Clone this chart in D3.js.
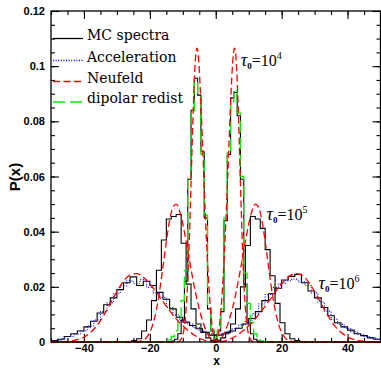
<!DOCTYPE html>
<html>
<head>
<meta charset="utf-8">
<script src="https://cdn.jsdelivr.net/npm/d3@7"></script>
<style>
  body { margin: 0; background: #fff; }
  .tick text { font-family: "Liberation Sans", Arial, sans-serif; font-weight: bold; font-size: 11px; }
</style>
</head>
<body>
<div id="chart"></div>
<script>
// x axis / y axis ticks
const xTicks = [-40, -20, 0, 20, 40];
const yTicks = [0, 0.02, 0.04, 0.06, 0.08, 0.1, 0.12];

const legendNames = ["MC spectra", "Acceleration", "Neufeld", "dipolar redist"];

// MC histograms: [left bin edge, P(x)]
const mc4 = [[-50, 0], [-13.5, 0.0003], [-12.5, 0.001], [-11.5, 0.003], [-10.5, 0.008], [-9.5, 0.022],
  [-8.5, 0.059], [-7.5, 0.084], [-6.5, 0.0956], [-5.5, 0.0895], [-4.5, 0.069], [-3.5, 0.045],
  [-2.5, 0.012], [-1.5, 0.004], [-0.5, 0.001], [0.5, 0.004], [1.5, 0.011], [2.5, 0.044],
  [3.5, 0.068], [4.5, 0.0885], [5.5, 0.0905], [6.5, 0.082], [7.5, 0.059], [8.5, 0.021],
  [9.5, 0.007], [10.5, 0.003], [11.5, 0.001], [12.5, 0.0003], [13.5, 0], [50, 0]];

const mc5 = [[-50, 0], [-27, 0.0002], [-25.5, 0.0005], [-24, 0.0012], [-22.5, 0.004], [-21, 0.008],
  [-19.5, 0.015], [-18, 0.026], [-16.5, 0.037], [-15, 0.0446], [-13.5, 0.0455], [-12, 0.0462],
  [-10.5, 0.0358], [-9, 0.021], [-7.5, 0.012], [-6, 0.0065], [-4.5, 0.0035], [-3, 0.0015],
  [-1.5, 0.0006], [0, 0.0006], [1.5, 0.0015], [3, 0.0035], [4.5, 0.0065], [6, 0.012],
  [7.5, 0.02], [9, 0.035], [10.5, 0.0455], [12, 0.0446], [13.5, 0.0412], [15, 0.0335],
  [16.5, 0.024], [18, 0.014], [19.5, 0.007], [21, 0.003], [22.5, 0.0012], [24, 0.0005],
  [25.5, 0.0002], [27, 0], [50, 0]];

const mc6 = [[-50, 0.0005], [-48, 0.001], [-46, 0.002], [-44, 0.003], [-42, 0.004], [-40, 0.0055],
  [-38, 0.0075], [-36, 0.0105], [-34, 0.0135], [-32, 0.016], [-30, 0.019], [-28, 0.0215],
  [-26, 0.0236], [-24, 0.0205], [-22, 0.022], [-20, 0.0205], [-18, 0.018], [-16, 0.0155],
  [-14, 0.012], [-12, 0.009], [-10, 0.0072], [-8, 0.006], [-6, 0.0048], [-4, 0.0035],
  [-2, 0.0025], [0, 0.0025], [2, 0.003], [4, 0.004], [6, 0.005], [8, 0.0065], [10, 0.0085],
  [12, 0.011], [14, 0.015], [16, 0.0175], [18, 0.0195], [20, 0.0225], [22, 0.0238],
  [24, 0.0245], [26, 0.0215], [28, 0.0185], [30, 0.016], [32, 0.0125], [34, 0.0095],
  [36, 0.007], [38, 0.0055], [40, 0.0043], [42, 0.003], [44, 0.0023], [46, 0.0015],
  [48, 0.001], [50, 0.001]];

// acceleration scheme, tau0 = 1e6
const accel6 = [[-50, 0.0004], [-49, 0.0006], [-47, 0.0012], [-45, 0.002], [-43, 0.0028], [-41, 0.004],
  [-39, 0.0058], [-37, 0.008], [-35, 0.011], [-33, 0.0142], [-31, 0.0175], [-29, 0.0203],
  [-27, 0.0222], [-25, 0.0212], [-23, 0.0226], [-21, 0.0198], [-19, 0.0178], [-17, 0.0162],
  [-15, 0.0125], [-13, 0.0098], [-11, 0.0078], [-9, 0.0066], [-7, 0.0052], [-5, 0.004],
  [-3, 0.003], [-1, 0.0024], [1, 0.0029], [3, 0.0037], [5, 0.0048], [7, 0.0062], [9, 0.008],
  [11, 0.0103], [13, 0.0138], [15, 0.0172], [17, 0.0198], [19, 0.0212], [21, 0.0222],
  [23, 0.0228], [25, 0.0218], [27, 0.0205], [29, 0.0178], [31, 0.0145], [33, 0.0112],
  [35, 0.0082], [37, 0.0064], [39, 0.005], [41, 0.0037], [43, 0.0027], [45, 0.002],
  [47, 0.0014], [49, 0.001], [50, 0.001]];

// dipolar redistribution, tau0 = 1e4
const dip4 = [[-50, 0], [-14.5, 0.0008], [-13.5, 0.002], [-12.5, 0.004], [-11.5, 0.008], [-10.5, 0.015],
  [-9.5, 0.026], [-8.5, 0.06], [-7.5, 0.083], [-6.5, 0.0945], [-5.5, 0.0895], [-4.5, 0.068],
  [-3.5, 0.046], [-2.5, 0.013], [-1.5, 0.0045], [-0.5, 0.0015], [0.5, 0.0045], [1.5, 0.012],
  [2.5, 0.045], [3.5, 0.069], [4.5, 0.087], [5.5, 0.0915], [6.5, 0.083], [7.5, 0.06],
  [8.5, 0.025], [9.5, 0.014], [10.5, 0.007], [11.5, 0.003], [12.5, 0.0012], [13.5, 0.0004],
  [14.5, 0], [50, 0]];

// Neufeld solution
const neu4 = [[-50, 0], [-13, 0], [-12, 0.00003], [-11, 0.00034], [-10, 0.0025], [-9.5, 0.0058],
  [-9, 0.012], [-8.5, 0.0226], [-8, 0.038], [-7.5, 0.0574], [-7, 0.0779], [-6.5, 0.095],
  [-6, 0.1049], [-5.7, 0.1065], [-5.5, 0.1058], [-5, 0.0988], [-4.5, 0.0864], [-4, 0.0714],
  [-3.5, 0.056], [-3, 0.0417], [-2.5, 0.0291], [-2, 0.0186], [-1.5, 0.0105], [-1, 0.0047],
  [-0.5, 0.0012], [0, 0], [0.5, 0.0012], [1, 0.0047], [1.5, 0.0105], [2, 0.0186], [2.5, 0.0291],
  [3, 0.0417], [3.5, 0.056], [4, 0.0714], [4.5, 0.0864], [5, 0.0988], [5.5, 0.1058],
  [5.7, 0.1065], [6, 0.1049], [6.5, 0.095], [7, 0.0779], [7.5, 0.0574], [8, 0.038],
  [8.5, 0.0226], [9, 0.012], [9.5, 0.0058], [10, 0.0025], [11, 0.00034], [12, 0.00003],
  [13, 0], [50, 0]];

const neu5 = [[-50, 0], [-26, 0], [-24, 0.0001], [-22, 0.0007], [-21, 0.0016], [-20, 0.0035],
  [-19, 0.0067], [-18, 0.0117], [-17, 0.0188], [-16, 0.0274], [-15, 0.0364], [-14, 0.0441],
  [-13, 0.0488], [-12, 0.05], [-11, 0.0476], [-10, 0.0428], [-9, 0.0365], [-8, 0.0297],
  [-7, 0.0231], [-6, 0.0171], [-5, 0.0119], [-4, 0.0077], [-3, 0.0043], [-2, 0.0019],
  [-1, 0.0005], [0, 0], [1, 0.0005], [2, 0.0019], [3, 0.0043], [4, 0.0077], [5, 0.0119],
  [6, 0.0171], [7, 0.0231], [8, 0.0297], [9, 0.0365], [10, 0.0428], [11, 0.0476], [12, 0.05],
  [13, 0.0488], [14, 0.0441], [15, 0.0364], [16, 0.0274], [17, 0.0188], [18, 0.0117],
  [19, 0.0067], [20, 0.0035], [21, 0.0016], [22, 0.0007], [24, 0.0001], [26, 0], [50, 0]];

const neu6 = [[-50, 0], [-48, 0.00005], [-46, 0.00015], [-44, 0.00038], [-42, 0.00087], [-40, 0.0018],
  [-38, 0.0035], [-36, 0.006], [-34, 0.0096], [-32, 0.0139], [-30, 0.0183], [-28, 0.022],
  [-26, 0.0243], [-24, 0.0248], [-22, 0.0235], [-20, 0.0211], [-18, 0.018], [-16, 0.0146],
  [-14, 0.0114], [-12, 0.0084], [-10, 0.0059], [-8, 0.0038], [-6, 0.0021], [-4, 0.0009],
  [-2, 0.0002], [0, 0], [2, 0.0002], [4, 0.0009], [6, 0.0021], [8, 0.0038], [10, 0.0059],
  [12, 0.0084], [14, 0.0114], [16, 0.0146], [18, 0.018], [20, 0.0211], [22, 0.0235],
  [24, 0.0248], [26, 0.0243], [28, 0.022], [30, 0.0183], [32, 0.0139], [34, 0.0096],
  [36, 0.006], [38, 0.0035], [40, 0.0018], [42, 0.00087], [44, 0.00038], [46, 0.00015],
  [48, 0.00005], [50, 0]];

const tauLabels = [
  { exp: "4", at: [7.6, 0.1] },
  { exp: "5", at: [15.4, 0.0444] },
  { exp: "6", at: [31.2, 0.0192] }
];

const width = 381, height = 368;
const svg = d3.select("#chart").append("svg")
  .attr("width", width).attr("height", height);

const x = d3.scaleLinear().domain([-50, 50]).range([51, 380.5]);
const y = d3.scaleLinear().domain([0, 0.12]).range([342, 11]);

const fmtY = d => d === 0 ? "0" : String(+d.toFixed(2));
const fmtX = d => d < 0 ? "\u2212" + Math.abs(d) : String(d);

// ticks on all four sides, pointing in
function axes() {
  svg.append("g").attr("transform", "translate(0,342)")
    .call(d3.axisBottom(x).tickValues(x.ticks(20)).tickSize(-4).tickFormat(""));
  svg.append("g").attr("transform", "translate(0,342)")
    .call(d3.axisBottom(x).tickValues(xTicks).tickSize(-8).tickPadding(2).tickFormat(fmtX));
  svg.append("g").attr("transform", "translate(0,11)")
    .call(d3.axisTop(x).tickValues(x.ticks(20)).tickSize(-4).tickFormat(""));
  svg.append("g").attr("transform", "translate(0,11)")
    .call(d3.axisTop(x).tickValues(xTicks).tickSize(-8).tickFormat(""));
  svg.append("g").attr("transform", "translate(51,0)")
    .call(d3.axisLeft(y).tickValues(y.ticks(24)).tickSize(-4).tickFormat(""));
  svg.append("g").attr("transform", "translate(51,0)")
    .call(d3.axisLeft(y).tickValues(yTicks).tickSize(-8).tickPadding(6).tickFormat(fmtY));
  svg.append("g").attr("transform", "translate(380.5,0)")
    .call(d3.axisRight(y).tickValues(y.ticks(24)).tickSize(-4).tickFormat(""));
  svg.append("g").attr("transform", "translate(380.5,0)")
    .call(d3.axisRight(y).tickValues(yTicks).tickSize(-8).tickFormat(""));
  svg.selectAll(".domain").remove();
  svg.selectAll(".tick line").attr("stroke", "#000").attr("stroke-width", 1.1);
}
axes();

const step = d3.line().x(d => x(d[0])).y(d => y(d[1])).curve(d3.curveStepAfter);
const smooth = d3.line().x(d => x(d[0])).y(d => y(d[1])).curve(d3.curveMonotoneX);

const styles = {
  mc: { stroke: "#000", width: 1.1, dash: null },
  acc: { stroke: "#0000ff", width: 1.1, dash: "1,1.6" },
  neu: { stroke: "#ff0000", width: 1.3, dash: "7,3.5" },
  dip: { stroke: "#00ee00", width: 1.3, dash: "12,5" }
};

function draw(data, gen, st) {
  svg.append("path").datum(data).attr("d", gen)
    .attr("fill", "none").attr("stroke", st.stroke).attr("stroke-width", st.width)
    .attr("stroke-dasharray", st.dash);
}

[mc4, mc5, mc6].forEach(d => draw(d, step, styles.mc));
draw(accel6, step, styles.acc);
draw(dip4, step, styles.dip);
[neu4, neu5, neu6].forEach(d => draw(d, smooth, styles.neu));

// frame
svg.append("rect").attr("x", 51).attr("y", 11).attr("width", 329.5).attr("height", 331)
  .attr("fill", "none").attr("stroke", "#000").attr("stroke-width", 1.3);

// legend
const legY = [38.5, 60.5, 81.5, 102];
const legStyles = [styles.mc, styles.acc, styles.neu, styles.dip];
legendNames.forEach((name, i) => {
  const st = legStyles[i];
  svg.append("line").attr("x1", 53).attr("x2", 83).attr("y1", legY[i]).attr("y2", legY[i])
    .attr("stroke", st.stroke).attr("stroke-width", st.width + 0.2).attr("stroke-dasharray", st.dash);
  svg.append("text").attr("x", 87).attr("y", legY[i] + 1.2)
    .attr("font-family", "DejaVu Serif").attr("font-size", 14).text(name);
});

// tau labels
tauLabels.forEach(t => {
  const tx = svg.append("text").attr("x", x(t.at[0])).attr("y", y(t.at[1]))
    .attr("font-family", "Liberation Serif").attr("font-size", 16);
  tx.append("tspan").attr("font-style", "italic").attr("font-size", 18).text("\u03c4");
  tx.append("tspan").attr("font-size", 9).attr("font-weight", "bold").attr("dy", 3).text("0");
  tx.append("tspan").attr("dy", -3).text("=10");
  tx.append("tspan").attr("font-size", 10).attr("dy", -7).text(t.exp);
});

// axis titles
svg.append("text").attr("x", 216.5).attr("y", 365.3).attr("text-anchor", "middle")
  .attr("font-family", "Liberation Sans").attr("font-weight", "bold").attr("font-size", 12).text("x");
svg.append("text").attr("transform", "translate(20,177) rotate(-90)").attr("text-anchor", "middle")
  .attr("font-family", "Liberation Sans").attr("font-weight", "bold").attr("font-size", 15).text("P(x)");
</script>
</body>
</html>
